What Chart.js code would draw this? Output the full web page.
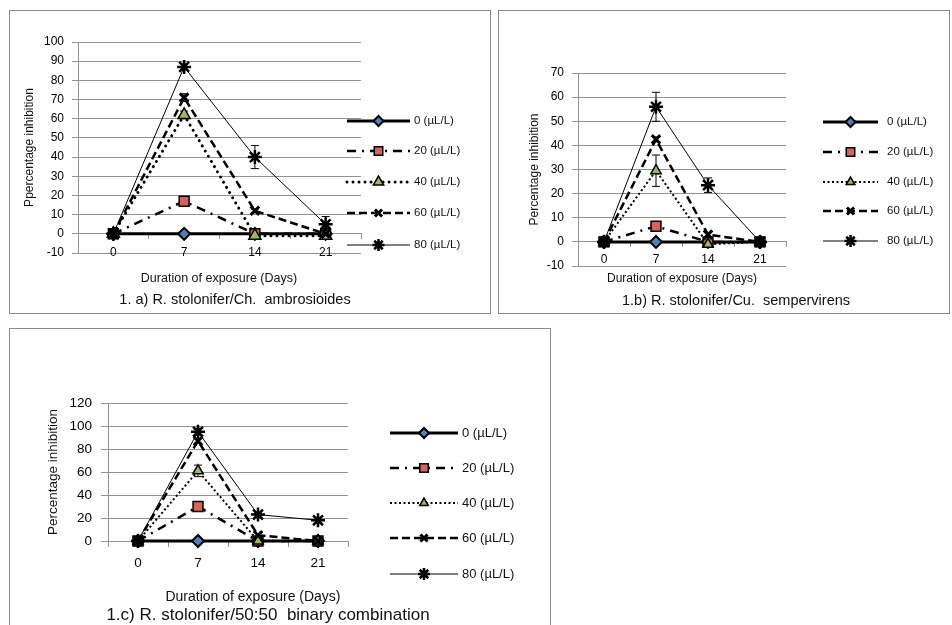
<!DOCTYPE html>
<html>
<head>
<meta charset="utf-8">
<script src="https://cdn.jsdelivr.net/npm/chart.js@4.4.0/dist/chart.umd.min.js"></script>
<style>
html, body { margin: 0; padding: 0; background: #fff; width: 952px; height: 625px; overflow: hidden; }
.panel { position: absolute; border: 1px solid #8a8a8a; box-sizing: border-box; background: #fff; overflow: hidden; }
.panel canvas { position: absolute; left: 0; top: 0; }
.txt { position: absolute; font-family: "Liberation Sans", Arial, sans-serif; color: #111; white-space: pre; transform: translate(-50%, -50%); }
</style>
</head>
<body>
<div class="panel" style="left:9px;top:10px;width:482px;height:304px;"><canvas id="chartA" width="480" height="302"></canvas></div>
<div class="panel" style="left:498px;top:10px;width:452px;height:304px;"><canvas id="chartB" width="450" height="302"></canvas></div>
<div class="panel" style="left:9px;top:328px;width:542px;height:310px;"><canvas id="chartC" width="540" height="296"></canvas></div>

<div class="txt" style="left:219px;top:278px;font-size:12.5px;">Duration of exposure (Days)</div>
<div class="txt" style="left:235px;top:299px;font-size:14.5px;">1. a) R. stolonifer/Ch.  ambrosioides</div>
<div class="txt" style="left:682px;top:278px;font-size:12px;">Duration of exposure (Days)</div>
<div class="txt" style="left:736px;top:300px;font-size:14.5px;">1.b) R. stolonifer/Cu.  sempervirens</div>
<div class="txt" style="left:253px;top:596px;font-size:14px;">Duration of exposure (Days)</div>
<div class="txt" style="left:268px;top:615px;font-size:17px;">1.c) R. stolonifer/50:50  binary combination</div>

<script>
const days = ["0", "7", "14", "21"];
const doses = ["0 (µL/L)", "20 (µL/L)", "40 (µL/L)", "60 (µL/L)", "80 (µL/L)"];

// 1.a) R. stolonifer / Ch. ambrosioides
const a0 = [0, 0, 0, 0];
const a20 = [0, 17, 0, 0];
const a40 = [0, 62, -1, -1];
const a60 = [0, 71, 12, 0];
const a80 = [0, 87, 40, 5];
const a20Err = [0, 1, 0, 0];
const a40Err = [0, 2, 0, 0];
const a60Err = [0, 2, 1, 0];
const a80Err = [0, 1.5, 6, 4];

// 1.b) R. stolonifer / Cu. sempervirens
const b0 = [0, 0, 0, 0];
const b20 = [0, 6.5, 0, 0];
const b40 = [0, 29.5, -1, 0];
const b60 = [0, 42.5, 3, 0];
const b80 = [0, 56, 23.5, 0];
const b20Err = [0, 1, 0, 0];
const b40Err = [0, 6.5, 0, 0];
const b60Err = [0, 1, 0, 0];
const b80Err = [0, 6, 3, 0];

// 1.c) R. stolonifer / 50:50 binary combination
const c0 = [0, 0, 0, 0];
const c20 = [0, 30, 0, 0];
const c40 = [0, 61, 0, 0];
const c60 = [0, 87, 5, 0];
const c80 = [0, 95, 23, 18];
const c20Err = [0, 1, 0, 0];
const c40Err = [0, 5, 0, 0];
const c60Err = [0, 2, 0, 0];
const c80Err = [0, 3, 1, 2.5];

const FONT = "'Liberation Sans', Arial, sans-serif";
const GRID = "#929292";

// line + marker look of each dose, Excel 2007 style
function doseStyles(fineDots) {
    return [
        { borderWidth: 3, borderDash: [], pointStyle: "rectRot", pointRadius: 6,
          pointBackgroundColor: "#4F81BD", pointBorderColor: "#000", pointBorderWidth: 2 },
        { borderWidth: 2.5, borderDash: [9, 6, 2, 6], pointStyle: "rect", pointRadius: 7,
          pointBackgroundColor: "#D9635C", pointBorderColor: "#000", pointBorderWidth: 1.5 },
        fineDots
            ? { borderWidth: 2, borderDash: [2, 2.5], pointStyle: "triangle", pointRadius: 6,
                pointBackgroundColor: "#9BBB59", pointBorderColor: "#000", pointBorderWidth: 1.5 }
            : { borderWidth: 3, borderDash: [0.01, 6], borderCapStyle: "round", pointStyle: "triangle", pointRadius: 7,
                pointBackgroundColor: "#9BBB59", pointBorderColor: "#000", pointBorderWidth: 1.5 },
        { borderWidth: 2.5, borderDash: [8, 4], pointStyle: "crossRot", pointRadius: 6,
          pointBackgroundColor: "#000", pointBorderColor: "#000", pointBorderWidth: 3 },
        { borderWidth: 1, borderDash: [], pointStyle: "star", pointRadius: 7,
          pointBackgroundColor: "#000", pointBorderColor: "#000", pointBorderWidth: 2.5 },
    ];
}

// error bars sit under the markers, like in the Excel original
const errorBarPlugin = {
    id: "errorBars",
    beforeDatasetsDraw(chart) {
        const ctx = chart.ctx;
        const ys = chart.scales.y;
        chart.data.datasets.forEach((ds, i) => {
            if (!ds.errors) return;
            const meta = chart.getDatasetMeta(i);
            ds.errors.forEach((e, j) => {
                if (!e) return;
                const x = meta.data[j].x;
                const y1 = ys.getPixelForValue(ds.data[j] + e);
                const y2 = ys.getPixelForValue(ds.data[j] - e);
                ctx.save();
                ctx.strokeStyle = "#000";
                ctx.lineWidth = 1;
                ctx.beginPath();
                ctx.moveTo(x, y1); ctx.lineTo(x, y2);
                ctx.moveTo(x - 4, y1); ctx.lineTo(x + 4, y1);
                ctx.moveTo(x - 4, y2); ctx.lineTo(x + 4, y2);
                ctx.stroke();
                ctx.restore();
            });
        });
    },
};

const sideLegendPlugin = {
    id: "sideLegend",
    afterDraw(chart, args, opts) {
        const ctx = chart.ctx;
        chart.data.datasets.forEach((ds, i) => {
            const y = opts.rows[i];
            ctx.save();
            ctx.strokeStyle = "#000";
            ctx.lineWidth = ds.borderWidth;
            ctx.lineCap = ds.borderCapStyle || "butt";
            ctx.setLineDash(ds.borderDash || []);
            ctx.beginPath();
            ctx.moveTo(opts.x1, y);
            ctx.lineTo(opts.x2, y);
            ctx.stroke();
            ctx.setLineDash([]);
            ctx.lineCap = "butt";
            ctx.fillStyle = ds.pointBackgroundColor;
            ctx.strokeStyle = ds.pointBorderColor;
            ctx.lineWidth = ds.pointBorderWidth;
            Chart.helpers.drawPoint(ctx, {
                pointStyle: ds.pointStyle, radius: ds.pointRadius - 1,
                borderWidth: ds.pointBorderWidth, rotation: 0,
            }, (opts.x1 + opts.x2) / 2, y);
            ctx.fillStyle = "#111";
            ctx.font = opts.fontSize + "px " + FONT;
            ctx.textBaseline = "middle";
            ctx.textAlign = "left";
            ctx.fillText(doses[i], opts.textX, y);
            ctx.restore();
        });
    },
};

function makeChart(id, p) {
    const styles = doseStyles(p.fineDots);
    const datasets = p.series.map((data, i) => Object.assign({
        label: doses[i],
        data: data,
        errors: p.errors[i],
        borderColor: "#000",
        tension: 0,
        fill: false,
        clip: false,
        order: 4 - i,
    }, styles[i]));

    return new Chart(document.getElementById(id), {
        type: "line",
        data: { labels: days, datasets: datasets },
        options: {
            responsive: false,
            animation: false,
            events: [],
            layout: { padding: { left: 0, top: p.area.t, right: p.w - p.area.r, bottom: p.h - p.area.b } },
            scales: {
                x: {
                    type: "category",
                    offset: true,
                    position: { y: 0 },
                    grid: { display: true, drawOnChartArea: false, drawTicks: true, tickLength: 5, offset: true, color: GRID },
                    border: { color: GRID },
                    ticks: { padding: p.xPad, color: "#000", font: { family: FONT, size: p.tickSize } },
                },
                y: {
                    min: p.ymin,
                    max: p.ymax,
                    ticks: { stepSize: p.step, padding: p.yPad, color: "#000", font: { family: FONT, size: p.tickSize } },
                    grid: { color: GRID, tickLength: p.yTick },
                    border: { color: GRID },
                    title: {
                        display: true, text: p.ytitle, color: "#111",
                        font: { family: FONT, size: p.titleSize },
                        padding: { top: p.titleX - p.titleSize * 0.6, bottom: 0 },
                    },
                    afterFit: (scale) => { scale.width = p.area.l; },
                },
            },
            plugins: {
                legend: { display: false },
                tooltip: { enabled: false },
                sideLegend: p.legend,
            },
        },
        plugins: [errorBarPlugin, sideLegendPlugin],
    });
}

var chartA = makeChart("chartA", {
    w: 480, h: 302,
    area: { l: 68, t: 31, r: 351, b: 242 },
    ymin: -10, ymax: 100, step: 10,
    ytitle: "Ppercentage inhibition", titleX: 20, titleSize: 12,
    tickSize: 12, xPad: 6.8, yPad: 8, yTick: 6, fineDots: false,
    series: [a0, a20, a40, a60, a80],
    errors: [null, a20Err, a40Err, a60Err, a80Err],
    legend: { x1: 337, x2: 400, textX: 404, fontSize: 11.5, rows: [110, 140, 171, 202, 234] },
});

var chartB = makeChart("chartB", {
    w: 450, h: 302,
    area: { l: 79, t: 62, r: 287, b: 255 },
    ymin: -10, ymax: 70, step: 10,
    ytitle: "Percentage inhibition", titleX: 36, titleSize: 12,
    tickSize: 12, xPad: 5.8, yPad: 8, yTick: 6, fineDots: true,
    series: [b0, b20, b40, b60, b80],
    errors: [null, b20Err, b40Err, b60Err, b80Err],
    legend: { x1: 324, x2: 379, textX: 388, fontSize: 11.5, rows: [111, 141, 171, 200, 230] },
});

var chartC = makeChart("chartC", {
    w: 540, h: 296,
    area: { l: 98, t: 74, r: 338, b: 212 },
    ymin: 0, ymax: 120, step: 20,
    ytitle: "Percentage inhibition", titleX: 43, titleSize: 13.5,
    tickSize: 13.5, xPad: 8.9, yPad: 9, yTick: 7, fineDots: true,
    series: [c0, c20, c40, c60, c80],
    errors: [null, c20Err, c40Err, c60Err, c80Err],
    legend: { x1: 380, x2: 448, textX: 452, fontSize: 13, rows: [104, 139, 174, 209, 245] },
});
</script>
</body>
</html>
